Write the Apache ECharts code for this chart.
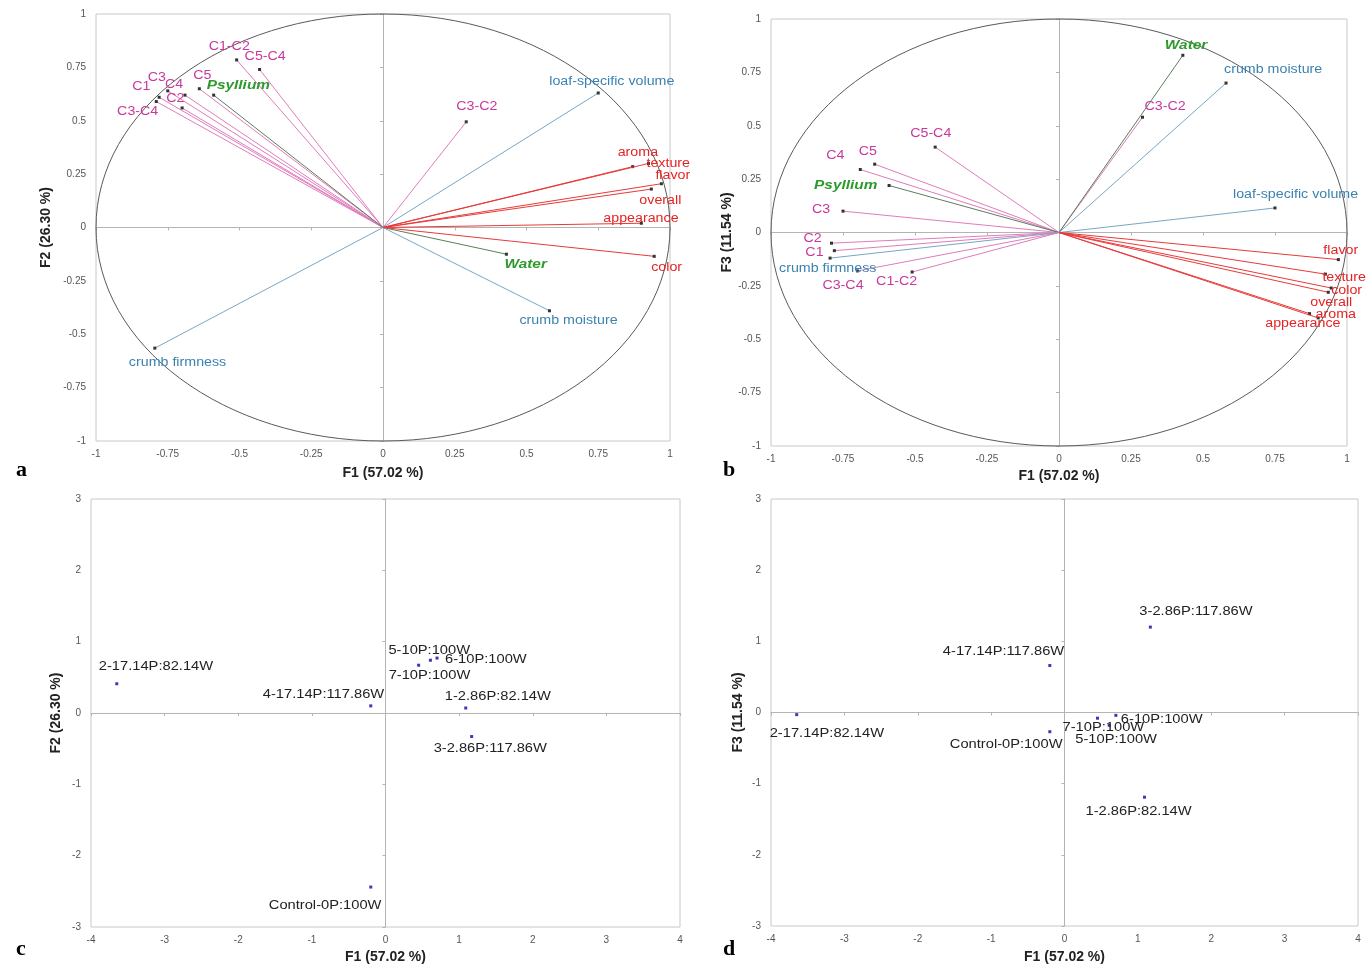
<!DOCTYPE html>
<html>
<head>
<meta charset="utf-8">
<script src="https://cdn.jsdelivr.net/npm/echarts@6/dist/echarts.min.js"></script>
<style>
html,body{margin:0;padding:0;background:#fff;}
#chart{width:1367px;height:968px;}
</style>
</head>
<body>
<div id="chart"></div>
<script>
// ---- Variables (loadings) ----
const varNames = ['C1','C2','C3','C4','C5','C1-C2','C3-C2','C3-C4','C5-C4','Psyllium','Water',
  'loaf-specific volume','crumb firmness','crumb moisture','aroma','texture','flavor','overall','appearance','color'];
const varGroup = ['c','c','c','c','c','c','c','c','c','f','f','r','r','r','s','s','s','s','s','s'];
const loadF1 = [-0.78,-0.79,-0.75,-0.69,-0.64,-0.51,0.29,-0.70,-0.43,-0.59,0.43,
  0.75,-0.795,0.58,0.87,0.925,0.97,0.935,0.90,0.945];
const loadF2 = [0.61,0.59,0.64,0.62,0.65,0.785,0.495,0.56,0.74,0.62,-0.125,
  0.63,-0.565,-0.39,0.285,0.30,0.205,0.18,0.02,-0.135];
const loadF3 = [-0.085,-0.05,0.10,0.295,0.32,-0.185,0.54,-0.18,0.40,0.22,0.83,
  0.115,-0.12,0.70,-0.38,-0.195,-0.127,-0.28,-0.40,-0.26];

// ---- Observations (scores) ----
const obsNames = ['1-2.86P:82.14W','2-17.14P:82.14W','3-2.86P:117.86W','4-17.14P:117.86W',
  '5-10P:100W','6-10P:100W','7-10P:100W','Control-0P:100W'];
const obsF1 = [1.09,-3.65,1.17,-0.20,0.61,0.70,0.45,-0.20];
const obsF2 = [0.07,0.41,-0.33,0.10,0.74,0.77,0.67,-2.44];
const obsF3 = [-1.19,-0.03,1.20,0.66,-0.18,-0.04,-0.08,-0.27];

// ---- Axis titles ----
const titleF1 = 'F1 (57.02 %)';
const titleF2 = 'F2 (26.30 %)';
const titleF3 = 'F3 (11.54 %)';
const panelLetters = ['a','b','c','d'];

// ---- Styling (label offsets in px relative to the point) ----
const textCol = {c:'#c8389c', f:'#2e9a2e', r:'#3a82b0', s:'#e52323'};
const lineCol = {c:'#e07cbc', f:'#5b7f5b', r:'#7aa6c4', s:'#e83a3a'};
const offA = {'C1':[-27,-11],'C2':[10,-3],'C3':[-20,-13],'C4':[-20,-11],'C5':[-6,-13],
  'C1-C2':[-28,-13],'C3-C2':[-10,-15],'C3-C4':[-65,4],'C5-C4':[-15,-13],'Psyllium':[-7,-10],
  'Water':[-2,10],'loaf-specific volume':[-49,-11],'crumb firmness':[-26,14],'crumb moisture':[-30,10],
  'aroma':[-15,-14],'texture':[-2,0],'flavor':[-6,-8],'overall':[-12,11],'appearance':[-38,-5],'color':[-3,11]};
const offB = {'C1':[-29,2],'C2':[-28,-5],'C3':[-31,-2],'C4':[-34,-14],'C5':[-16,-13],
  'C1-C2':[-36,10],'C3-C2':[2,-11],'C3-C4':[-35,15],'C5-C4':[-25,-14],'Psyllium':[-75,0],
  'Water':[-18,-10],'loaf-specific volume':[-42,-13],'crumb firmness':[-51,10],'crumb moisture':[-2,-14],
  'aroma':[6,1],'texture':[-3,3],'flavor':[-15,-9],'overall':[-18,10],'appearance':[-53,6],'color':[0,3]};
const offC = {'1-2.86P:82.14W':[-21,-12],'2-17.14P:82.14W':[-18,-17],'3-2.86P:117.86W':[-38,12],
  '4-17.14P:117.86W':[-108,-11],'5-10P:100W':[-42,-10],'6-10P:100W':[8,1],'7-10P:100W':[-30,10],
  'Control-0P:100W':[-102,18]};
const offD = {'1-2.86P:82.14W':[-59,14],'2-17.14P:82.14W':[-27,19],'3-2.86P:117.86W':[-11,-16],
  '4-17.14P:117.86W':[-107,-14],'5-10P:100W':[-34,14],'6-10P:100W':[5,4],'7-10P:100W':[-35,9],
  'Control-0P:100W':[-100,13]};

const FONT = 'Liberation Sans, Arial, sans-serif';
const grids = [
  {left:96, top:14, width:574, height:427, show:true, borderColor:'#c8c8c8', borderWidth:1},
  {left:771, top:19, width:576, height:427, show:true, borderColor:'#c8c8c8', borderWidth:1},
  {left:91, top:499, width:589, height:428, show:true, borderColor:'#c8c8c8', borderWidth:1},
  {left:771, top:499, width:587, height:427, show:true, borderColor:'#c8c8c8', borderWidth:1}
];
const ranges = [[-1,1,0.25,-1,1,0.25],[-1,1,0.25,-1,1,0.25],[-4,4,1,-3,3,1],[-4,4,1,-3,3,1]];
const yTitles = [titleF2, titleF3, titleF2, titleF3];
const xGaps = [25,23,23,24];
const yGaps = [43,33,28,26];

const xAxes = [], yAxes = [];
ranges.forEach((r, g) => {
  xAxes.push({type:'value', gridIndex:g, min:r[0], max:r[1], interval:r[2], position:'bottom',
    axisLine:{show:false, onZero:false}, axisTick:{show:false}, splitLine:{show:false},
    axisLabel:{color:'#555', fontSize:10, fontFamily:FONT, margin:8},
    name:titleF1, nameLocation:'middle', nameGap:xGaps[g],
    nameTextStyle:{color:'#222', fontSize:14, fontWeight:'bold', fontFamily:FONT}});
  xAxes.push({type:'value', gridIndex:g, min:r[0], max:r[1], interval:r[2], position:'bottom',
    axisLine:{show:true, onZero:true, onZeroAxisIndex:g*2, lineStyle:{color:'#b4b4b4', width:1}},
    axisTick:{show:true, length:3, lineStyle:{color:'#b4b4b4'}}, axisLabel:{show:false}, splitLine:{show:false}});
  yAxes.push({type:'value', gridIndex:g, min:r[3], max:r[4], interval:r[5], position:'left',
    axisLine:{show:false, onZero:false}, axisTick:{show:false}, splitLine:{show:false},
    axisLabel:{color:'#555', fontSize:10, fontFamily:FONT, margin:10},
    name:yTitles[g], nameLocation:'middle', nameGap:yGaps[g],
    nameTextStyle:{color:'#222', fontSize:14, fontWeight:'bold', fontFamily:FONT}});
  yAxes.push({type:'value', gridIndex:g, min:r[3], max:r[4], interval:r[5], position:'left',
    axisLine:{show:true, onZero:true, onZeroAxisIndex:g*2, lineStyle:{color:'#b4b4b4', width:1}},
    axisTick:{show:true, length:3, lineStyle:{color:'#b4b4b4'}}, axisLabel:{show:false}, splitLine:{show:false}});
});

function circleSeries(g) {
  return {type:'custom', xAxisIndex:g*2, yAxisIndex:g*2, silent:true, clip:false, z:1,
    data:[[0,0]],
    renderItem:(params, api) => {
      const c = api.coord([0,0]);
      const s = api.size([1,1]);
      return {type:'ellipse', shape:{cx:c[0], cy:c[1], rx:s[0], ry:s[1]},
        style:{fill:null, stroke:'#5a5a5a', lineWidth:1}};
    }};
}

function vectorSeries(g, yVals, offs) {
  return {type:'custom', xAxisIndex:g*2, yAxisIndex:g*2, silent:true, clip:false, z:3,
    data: varNames.map((n,i) => [loadF1[i], yVals[i]]),
    renderItem:(params, api) => {
      const i = params.dataIndex;
      const o = api.coord([0,0]);
      const p = api.coord([api.value(0), api.value(1)]);
      const grp = varGroup[i];
      const off = offs[varNames[i]];
      const isF = grp === 'f';
      return {type:'group', children:[
        {type:'line', shape:{x1:o[0], y1:o[1], x2:p[0], y2:p[1]}, style:{stroke:lineCol[grp], lineWidth:1}},
        {type:'rect', shape:{x:p[0]-1.5, y:p[1]-1.5, width:3, height:3}, style:{fill:'#333'}},
        {type:'text', x:p[0]+off[0], y:p[1]+off[1], scaleX:1.14, z2:5, style:{text:varNames[i], fill:textCol[grp],
          fontSize: isF ? 13.5 : 12.5, fontWeight: isF ? 'bold' : 'normal', fontStyle: isF ? 'italic' : 'normal',
          fontFamily:FONT, align:'left', verticalAlign:'middle'}}
      ]};
    }};
}

function obsSeries(g, yVals, offs) {
  return {type:'custom', xAxisIndex:g*2, yAxisIndex:g*2, silent:true, clip:false, z:3,
    data: obsNames.map((n,i) => [obsF1[i], yVals[i]]),
    renderItem:(params, api) => {
      const i = params.dataIndex;
      const p = api.coord([api.value(0), api.value(1)]);
      const off = offs[obsNames[i]];
      return {type:'group', children:[
        {type:'rect', shape:{x:p[0]-1.5, y:p[1]-1.5, width:3, height:3}, style:{fill:'#3a3ab8'}},
        {type:'text', x:p[0]+off[0], y:p[1]+off[1], scaleX:1.13, style:{text:obsNames[i], fill:'#222',
          fontSize:13, fontFamily:FONT, align:'left', verticalAlign:'middle'}}
      ]};
    }};
}

const letterPos = [[16,459],[723,459],[16,938],[723,938]];
const chart = echarts.init(document.getElementById('chart'), null, {renderer:'canvas'});
chart.setOption({
  backgroundColor:'#fff',
  animation:false,
  grid: grids,
  xAxis: xAxes,
  yAxis: yAxes,
  graphic: panelLetters.map((t,k) => ({type:'text', left:letterPos[k][0], top:letterPos[k][1],
    style:{text:t, fill:'#000', fontSize:22, fontWeight:'bold', fontFamily:'Liberation Serif, Times New Roman, serif'}})),
  series: [
    circleSeries(0), circleSeries(1),
    vectorSeries(0, loadF2, offA),
    vectorSeries(1, loadF3, offB),
    obsSeries(2, obsF2, offC),
    obsSeries(3, obsF3, offD)
  ]
});
</script>
</body>
</html>
